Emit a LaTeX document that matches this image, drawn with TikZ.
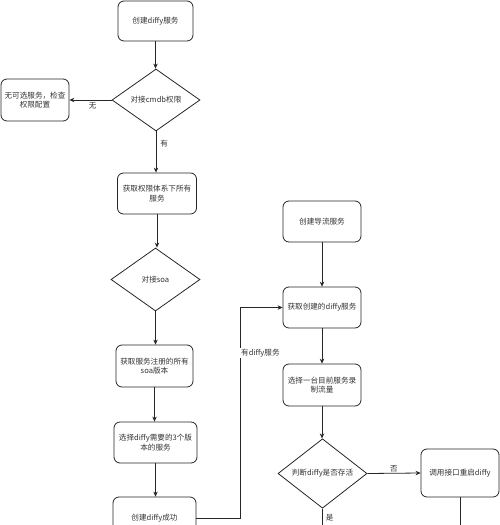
\documentclass[tikz,border=0pt]{standalone}
\usepackage{fontspec}
\setmainfont{Noto Sans CJK SC}
\usetikzlibrary{shapes.geometric,arrows.meta}
\begin{document}
\begin{tikzpicture}[x=1pt,y=-1pt,
  font=\fontsize{7.6}{9.5}\selectfont,
  boxstyle/.style={draw=black!85,line width=0.8pt,rounded corners=6pt,fill=white,text=black!80,align=center,inner sep=1pt},
  decision/.style={draw=black!85,line width=0.8pt,diamond,fill=white,text=black!80,align=center,inner sep=0pt},
  link/.style={draw=black!85,line width=0.8pt,-{Stealth[length=5pt,width=4.5pt]}},
  plainlink/.style={draw=black!85,line width=0.8pt},
  lbl/.style={text=black!80,inner sep=1pt}]
\useasboundingbox (0,0) rectangle (500,525);
% left column
\node[boxstyle,minimum width=75pt,minimum height=40pt] (b1) at (155.5,21) {创建diffy服务};
\node[decision,minimum width=88pt,minimum height=62pt] (d1) at (156,100) {对接cmdb权限};
\node[boxstyle,minimum width=68pt,minimum height=42pt] (lb) at (35,100) {无可选服务，检查\\权限配置};
\node[boxstyle,minimum width=79pt,minimum height=41pt] (b3) at (157,193.5) {获取权限体系下所有\\服务};
\node[decision,minimum width=89pt,minimum height=63pt] (d2) at (155.5,279.5) {对接soa};
\node[boxstyle,minimum width=77pt,minimum height=42pt] (b4) at (154.5,366) {获取服务注册的所有\\soa版本};
\node[boxstyle,minimum width=83pt,minimum height=41pt] (b5) at (155.5,442.5) {选择diffy需要的3个版\\本的服务};
\node[boxstyle,minimum width=83pt,minimum height=42pt] (b6) at (154.5,518) {创建diffy成功};
% right column
\node[boxstyle,minimum width=78pt,minimum height=41pt] (r1) at (322,221.5) {创建导流服务};
\node[boxstyle,minimum width=78pt,minimum height=41pt] (r2) at (322,307.5) {获取创建的diffy服务};
\node[boxstyle,minimum width=78pt,minimum height=42pt] (r3) at (322,385) {选择一台目前服务录\\制流量};
\node[decision,minimum width=89pt,minimum height=61pt] (d3) at (322.5,473.5) {判断diffy是否存活};
\node[boxstyle,minimum width=78pt,minimum height=48pt] (r4) at (460,473) {调用接口重启diffy};
\coordinate (e1) at (322.5,525);
\coordinate (e2) at (460,525);
\coordinate (k1) at (240,518);
\coordinate (k2) at (240,307.5);
% connectors
\draw[link] (b1.south) -- (b1.south |- d1.north);
\draw[link] (d1.west) -- (lb.east) node[lbl,pos=0.45,below=1pt] {无};
\draw[link] (d1.south) -- (d1.south |- b3.north) node[lbl,pos=0.3,right=3pt] {有};
\draw[link] (b3.south) -- (b3.south |- d2.north);
\draw[link] (d2.south) -- (d2.south |- b4.north);
\draw[link] (b4.south) -- (b4.south |- b5.north);
\draw[link] (b5.south) -- (b5.south |- b6.north);
\draw[link] (b6.east) -- (k1) -- (k2) -- (r2.west);
\node[lbl,fill=white,anchor=west] (lk) at (240,353) {有diffy服务};
\draw[link] (r1.south) -- (r1.south |- r2.north);
\draw[link] (r2.south) -- (r2.south |- r3.north);
\draw[link] (r3.south) -- (r3.south |- d3.north);
\draw[link] (d3.east) -- (r4.west) node[lbl,pos=0.5,above=0pt] {否};
\draw[plainlink] (d3.south) -- (e1) node[lbl,pos=0.55,right=2pt] {是};
\draw[plainlink] (r4.south) -- (e2);
\end{tikzpicture}
\end{document}
